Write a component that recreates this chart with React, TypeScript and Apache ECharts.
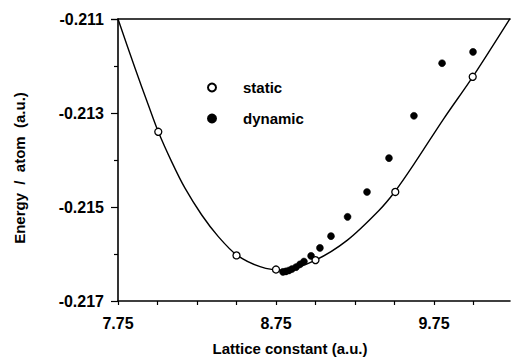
import React, { useEffect, useRef } from 'react';
import * as echarts from 'echarts';

// Reference origins of the plotted range
const X_MIN = 7.75;
const X_MAX = 10.231;
const Y_MIN = -0.217;
const Y_MAX = -0.211;

const xTickLabels = ['7.75', '8.75', '9.75'];

// static (open circles)
const staticX = [8.005, 8.5, 8.75, 9.0, 9.505, 9.995];
const staticY = [-0.2134, -0.21603, -0.21633, -0.21613, -0.21468, -0.21223];

// dynamic (filled circles)
const dynamicX = [8.794, 8.813, 8.832, 8.851, 8.877, 8.902, 8.927, 8.972, 9.028, 9.098, 9.203, 9.326, 9.465, 9.623, 9.801, 9.997];
const dynamicY = [-0.21638, -0.21637, -0.21635, -0.21632, -0.21628, -0.21622, -0.21616, -0.21604, -0.21587, -0.21562, -0.21521, -0.21468, -0.21396, -0.21306, -0.21194, -0.2117];

// fitted curve
const curveX = [7.75, 7.858, 7.942, 8.005, 8.09, 8.174, 8.28, 8.385, 8.501, 8.649, 8.8, 9.0, 9.2, 9.4, 9.503, 9.619, 9.81, 9.995, 10.231];
const curveY = [-0.211, -0.21205, -0.21283, -0.2134, -0.21404, -0.2146, -0.21517, -0.21563, -0.21602, -0.21627, -0.21635, -0.21613, -0.21571, -0.21508, -0.21467, -0.21411, -0.21313, -0.21223, -0.21099];

const tx = (x: number) => x - X_MIN;
const ty = (y: number) => (y - Y_MIN) * 1000;
const pairs = (xs: number[], ys: number[]) => xs.map((x, i) => [tx(x), ty(ys[i])]);

const FONT = '"Liberation Sans", Arial, Helvetica, sans-serif';

export default function App() {
  const ref = useRef<HTMLDivElement>(null);
  useEffect(() => {
    if (!ref.current) return;
    const chart = echarts.init(ref.current, null, { renderer: 'svg' });
    const axisLineStyle = { color: '#000', width: 1.6 };
    chart.setOption({
      animation: false,
      backgroundColor: '#fff',
      grid: { left: 118, right: 1, top: 19, bottom: 57, containLabel: false },
      legend: {
        data: ['static', 'dynamic'],
        orient: 'vertical',
        left: 207,
        top: 80,
        padding: 0,
        itemWidth: 52,
        itemHeight: 8,
        itemGap: 16,
        textStyle: { fontFamily: FONT, fontWeight: 'bold', fontSize: 15, color: '#000', lineHeight: 15 },
      },
      xAxis: [
        {
          type: 'value',
          position: 'bottom',
          min: 0,
          max: tx(X_MAX),
          interval: 0.25,
          axisLine: { show: true, onZero: false, lineStyle: axisLineStyle },
          axisTick: { show: true, inside: false, length: 4, lineStyle: { color: '#000', width: 1.2 } },
          axisLabel: {
            show: true,
            margin: 14,
            showMaxLabel: false,
            color: '#000',
            fontFamily: FONT,
            fontWeight: 'bold',
            fontSize: 16,
            formatter: (v: number) => {
              const lbl = (X_MIN + v).toFixed(2);
              return xTickLabels.includes(lbl) ? lbl : '';
            },
          },
          splitLine: { show: false },
        },
        {
          type: 'value',
          position: 'top',
          min: 0,
          max: tx(X_MAX),
          axisLine: { show: true, onZero: false, lineStyle: axisLineStyle },
          axisTick: { show: false },
          axisLabel: { show: false },
          splitLine: { show: false },
        },
      ],
      yAxis: {
        type: 'value',
        min: 0,
        max: ty(Y_MAX),
        interval: 2,
        axisLine: { show: true, onZero: false, lineStyle: axisLineStyle },
        axisTick: { show: true, inside: false, length: 7, lineStyle: { color: '#000', width: 1.2 } },
        minorTick: { show: true, splitNumber: 2, length: 4, lineStyle: { color: '#000', width: 1.2 } },
        axisLabel: {
          margin: 14,
          color: '#000',
          fontFamily: FONT,
          fontWeight: 'bold',
          fontSize: 16,
          formatter: (v: number) => (Y_MIN + v / 1000).toFixed(3),
        },
        splitLine: { show: false },
      },
      graphic: [
        {
          type: 'text',
          x: 290,
          y: 348,
          style: {
            text: 'Lattice constant (a.u.)',
            font: `bold 15px ${FONT}`,
            fill: '#000',
            align: 'center',
            verticalAlign: 'middle',
          },
        },
        {
          type: 'text',
          x: 19,
          y: 168,
          rotation: Math.PI / 2,
          style: {
            text: 'Energy  /  atom  (a.u.)',
            font: `bold 15px ${FONT}`,
            fill: '#000',
            align: 'center',
            verticalAlign: 'middle',
          },
        },
      ],
      series: [
        {
          name: 'fit',
          type: 'line',
          xAxisIndex: 0,
          data: pairs(curveX, curveY),
          smooth: 0.3,
          showSymbol: false,
          symbol: 'none',
          lineStyle: { color: '#000', width: 1.4 },
          z: 2,
        },
        {
          name: 'static',
          type: 'scatter',
          xAxisIndex: 0,
          data: pairs(staticX, staticY),
          symbol: 'circle',
          symbolSize: 7,
          itemStyle: { color: '#fff', borderColor: '#000', borderWidth: 1.3, opacity: 1 },
          z: 4,
        },
        {
          name: 'dynamic',
          type: 'scatter',
          xAxisIndex: 0,
          data: pairs(dynamicX, dynamicY),
          symbol: 'circle',
          symbolSize: 7,
          itemStyle: { color: '#000', borderColor: '#000', borderWidth: 0.5, opacity: 1 },
          z: 3,
        },
      ],
    });
    return () => chart.dispose();
  }, []);
  return <div ref={ref} style={{ position: 'fixed', left: 0, top: 0, width: 511, height: 358, background: '#fff' }} />;
}
